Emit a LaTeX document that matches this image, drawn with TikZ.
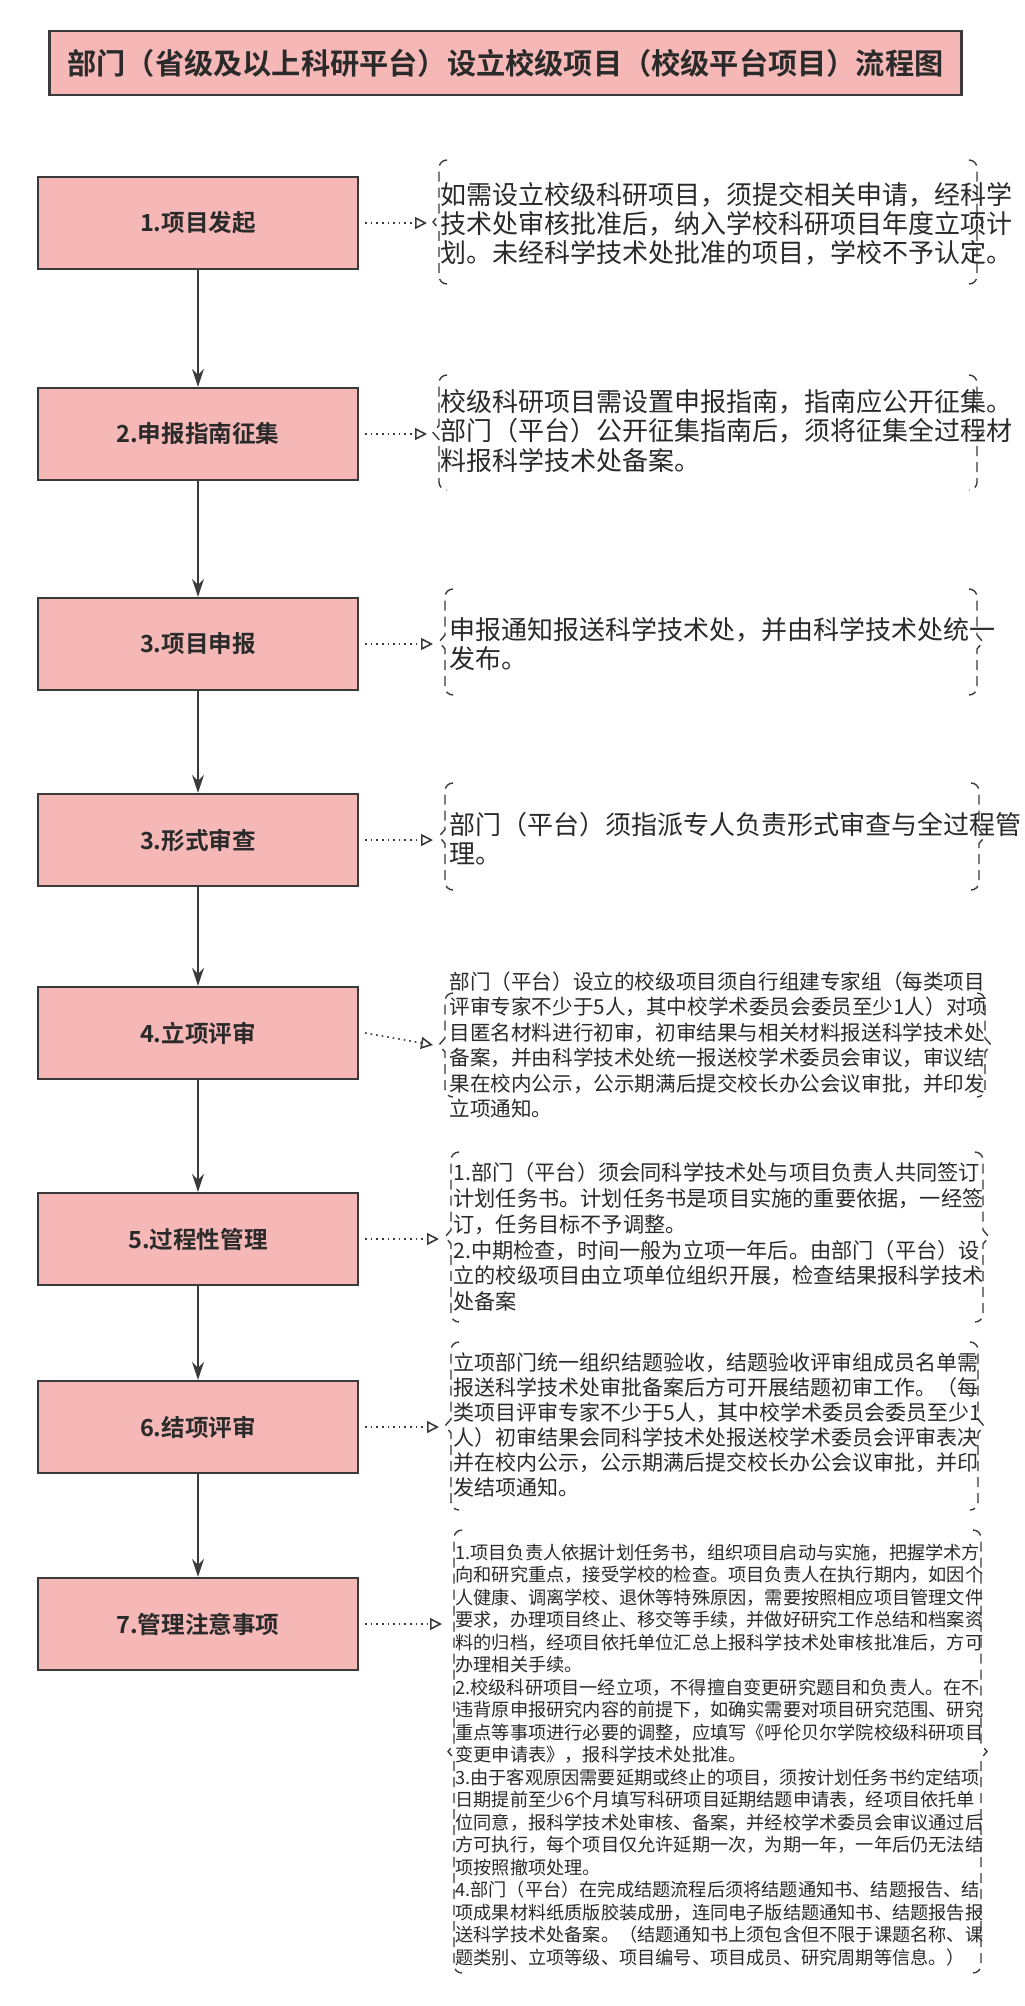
\documentclass[tikz,border=0pt]{standalone}
\usepackage{fontspec}
\setmainfont{Noto Sans CJK SC}[BoldFont={Noto Sans CJK SC Bold}]
\usetikzlibrary{arrows.meta}
\definecolor{pinkf}{HTML}{F5B8B7}
\definecolor{edge}{HTML}{3A3A3A}
\definecolor{txt}{HTML}{2A2A2A}
\tikzset{
 box/.style={draw=edge,line width=1.1pt,fill=pinkf,minimum width=160pt,minimum height=46pt,font=\bfseries\fontsize{11.8pt}{14pt}\selectfont,text=txt},
 flow/.style={draw=edge,line width=0.8pt,-{Stealth[length=9pt,width=6pt]}},
 link/.style={draw=edge,line width=0.8pt,dotted,-{Triangle[open,length=6pt,width=6pt,line width=0.8pt]}},
 note/.style={anchor=west,align=left,inner sep=0pt,text=txt},
 brk/.style={draw=edge,line width=0.7pt,dash pattern=on 5pt off 3pt},
}
\newcommand{\bracketbox}[4]{% xl xr top bot (px)
 \pgfmathsetmacro{\mymid}{(#3+#4)/2}
 \draw[brk] (#1+8,#3) to[out=180,in=90] (#1,#3+8) -- (#1,\mymid-7) -- (#1-6,\mymid) -- (#1,\mymid+7) -- (#1,#4-8) to[out=-90,in=180] (#1+8,#4);
 \draw[brk] (#2-8,#3) to[out=0,in=90] (#2,#3+8) -- (#2,\mymid-7) -- (#2+6,\mymid) -- (#2,\mymid+7) -- (#2,#4-8) to[out=-90,in=0] (#2-8,#4);
}
\begin{document}
\begin{tikzpicture}[x=0.5pt,y=-0.5pt]
\useasboundingbox[fill=white] (0,0) rectangle (1024,2006);
\node[draw=edge,line width=1.1pt,fill=pinkf,minimum width=456pt,minimum height=32pt,font=\bfseries\fontsize{14.6pt}{17pt}\selectfont,text=txt] (title) at (505.5,63) {部门（省级及以上科研平台）设立校级项目（校级平台项目）流程图};
\node[box] (b1) at (198,223) {1.项目发起};
\node[box] (b2) at (198,434) {2.申报指南征集};
\node[box] (b3) at (198,644) {3.项目申报};
\node[box] (b4) at (198,840) {3.形式审查};
\node[box] (b5) at (198,1033) {4.立项评审};
\node[box] (b6) at (198,1239) {5.过程性管理};
\node[box] (b7) at (198,1427) {6.结项评审};
\node[box] (b8) at (198,1624) {7.管理注意事项};
\foreach \a/\b in {b1/b2,b2/b3,b3/b4,b4/b5,b5/b6,b6/b7,b7/b8} \draw[flow] (\a) -- (\b);

\node[note,font=\fontsize{13pt}{14.6pt}\selectfont] (n1) at (440,224) {如需设立校级科研项目，须提交相关申请，经科学\\技术处审核批准后，纳入学校科研项目年度立项计\\划。未经科学技术处批准的项目，学校不予认定。};
\node[note,font=\fontsize{13pt}{14.6pt}\selectfont] (n2) at (440,431) {校级科研项目需设置申报指南，指南应公开征集。\\部门（平台）公开征集指南后，须将征集全过程材\\料报科学技术处备案。};
\node[note,font=\fontsize{13pt}{14.6pt}\selectfont] (n3) at (449,644) {申报通知报送科学技术处，并由科学技术处统一\\发布。};
\node[note,font=\fontsize{13pt}{14.6pt}\selectfont] (n4) at (449,839) {部门（平台）须指派专人负责形式审查与全过程管\\理。};
\node[note,font=\fontsize{10.3pt}{12.7pt}\selectfont] (n5) at (449,1045) {部门（平台）设立的校级项目须自行组建专家组（每类项目\\评审专家不少于5人，其中校学术委员会委员至少1人）对项\\目匿名材料进行初审，初审结果与相关材料报送科学技术处\\备案，并由科学技术处统一报送校学术委员会审议，审议结\\果在校内公示，公示期满后提交校长办公会议审批，并印发\\立项通知。};
\node[note,font=\fontsize{10.6pt}{12.9pt}\selectfont] (n6) at (453,1237) {1.部门（平台）须会同科学技术处与项目负责人共同签订\\计划任务书。计划任务书是项目实施的重要依据，一经签\\订，任务目标不予调整。\\2.中期检查，时间一般为立项一年后。由部门（平台）设\\立的校级项目由立项单位组织开展，检查结果报科学技术\\处备案};
\node[note,font=\fontsize{10.5pt}{12.5pt}\selectfont] (n7) at (453,1425) {立项部门统一组织结题验收，结题验收评审组成员名单需\\报送科学技术处审批备案后方可开展结题初审工作。（每\\类项目评审专家不少于5人，其中校学术委员会委员至少1\\人）初审结果会同科学技术处报送校学术委员会评审表决\\并在校内公示，公示期满后提交校长办公会议审批，并印\\发结项通知。};
\node[note,font=\fontsize{9.1pt}{11.25pt}\selectfont] (n8) at (455,1755) {1.项目负责人依据计划任务书，组织项目启动与实施，把握学术方\\向和研究重点，接受学校的检查。项目负责人在执行期内，如因个\\人健康、调离学校、退休等特殊原因，需要按照相应项目管理文件\\要求，办理项目终止、移交等手续，并做好研究工作总结和档案资\\料的归档，经项目依托单位汇总上报科学技术处审核批准后，方可\\办理相关手续。\\2.校级科研项目一经立项，不得擅自变更研究题目和负责人。在不\\违背原申报研究内容的前提下，如确实需要对项目研究范围、研究\\重点等事项进行必要的调整，应填写《呼伦贝尔学院校级科研项目\\变更申请表》，报科学技术处批准。\\3.由于客观原因需要延期或终止的项目，须按计划任务书约定结项\\日期提前至少6个月填写科研项目延期结题申请表，经项目依托单\\位同意，报科学技术处审核、备案，并经校学术委员会审议通过后\\方可执行，每个项目仅允许延期一次，为期一年，一年后仍无法结\\项按照撤项处理。\\4.部门（平台）在完成结题流程后须将结题通知书、结题报告、结\\项成果材料纸质版胶装成册，连同电子版结题通知书、结题报告报\\送科学技术处备案。（结题通知书上须包含但不限于课题名称、课\\题类别、立项等级、项目编号、项目成员、研究周期等信息。）};

\bracketbox{439}{977}{160}{284}
\bracketbox{439}{977}{375}{490}
\bracketbox{445}{977}{589}{695}
\bracketbox{445}{979}{783}{890}
\bracketbox{445}{985}{993}{1097}
\bracketbox{451}{983}{1152}{1322}
\bracketbox{451}{978}{1342}{1510}
\bracketbox{454}{981}{1530}{1973}

\coordinate (t1) at (427,223);
\coordinate (t2) at (427,434);
\coordinate (t3) at (433,644);
\coordinate (t4) at (433,840);
\coordinate (t5) at (433,1045);
\coordinate (t6) at (439,1239);
\coordinate (t7) at (439,1427);
\coordinate (t8) at (442,1624);
\foreach \i in {1,...,8} \draw[link] ([xshift=3pt]b\i.east) -- (t\i);
\end{tikzpicture}
\end{document}
